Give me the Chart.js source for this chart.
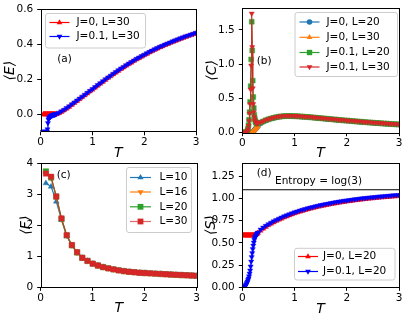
<!DOCTYPE html>
<html>
<head>
<meta charset="utf-8">
<script src="https://cdn.jsdelivr.net/npm/chart.js@4/dist/chart.umd.min.js"></script>
<style>
  body { margin: 0; background: #fff; }
  canvas { position: absolute; left: 0; top: 0; }
</style>
</head>
<body>
<canvas id="chartE" width="407" height="321"></canvas>
<canvas id="chartC" width="407" height="321"></canvas>
<canvas id="chartF" width="407" height="321"></canvas>
<canvas id="chartS" width="407" height="321"></canvas>
<script>
// temperature grid shared by (a), (b), (d): fine below 0.3, coarse above
const T = [
  0.01, 0.02, 0.03, 0.04, 0.05, 0.06, 0.07, 0.08, 0.09, 0.10,
  0.11, 0.12, 0.13, 0.14, 0.15, 0.16, 0.17, 0.18, 0.19, 0.20,
  0.21, 0.22, 0.23, 0.24, 0.25, 0.26, 0.27, 0.28, 0.29, 0.30,
  0.35, 0.40, 0.45, 0.50, 0.55, 0.60, 0.65, 0.70, 0.75, 0.80,
  0.85, 0.90, 0.95, 1.00, 1.05, 1.10, 1.15, 1.20, 1.25, 1.30,
  1.35, 1.40, 1.45, 1.50, 1.55, 1.60, 1.65, 1.70, 1.75, 1.80,
  1.85, 1.90, 1.95, 2.00, 2.05, 2.10, 2.15, 2.20, 2.25, 2.30,
  2.35, 2.40, 2.45, 2.50, 2.55, 2.60, 2.65, 2.70, 2.75, 2.80,
  2.85, 2.90, 2.95, 3.00
];
// temperature grid for (c)
const TF = [
  0.1, 0.2, 0.3, 0.4, 0.5, 0.6, 0.7, 0.8, 0.9, 1.0,
  1.1, 1.2, 1.3, 1.4, 1.5, 1.6, 1.7, 1.8, 1.9, 2.0,
  2.1, 2.2, 2.3, 2.4, 2.5, 2.6, 2.7, 2.8, 2.9, 3.0
];

// (a) energy
const eJ0L30 = [
  null, null, null, null, 0, 0, 0, 0, 0, 0,
  0, 0, 0, 0, 0, 0, 0, 0, 0, 0,
  0, 0, 0, 0, 0, 0, 0, 0, 0.0005, 0.001,
  0.005, 0.013, 0.022, 0.032, 0.042, 0.053, 0.064, 0.075, 0.086, 0.097,
  0.108, 0.119, 0.13, 0.141, 0.152, 0.163, 0.174, 0.185, 0.196, 0.207,
  0.217, 0.228, 0.238, 0.248, 0.258, 0.267, 0.277, 0.286, 0.295, 0.304,
  0.313, 0.321, 0.329, 0.337, 0.345, 0.353, 0.36, 0.368, 0.375, 0.382,
  0.388, 0.395, 0.401, 0.407, 0.413, 0.419, 0.425, 0.431, 0.436, 0.442,
  0.447, 0.452, 0.457, 0.462
];
const eJ01L30 = [
  -0.1, -0.1, -0.1, -0.1, -0.1, -0.1, -0.1, -0.1, -0.1, -0.1,
  -0.1, -0.1, -0.085, -0.05, -0.03, -0.022, -0.018, -0.015, -0.012, -0.01,
  -0.008, -0.006, -0.005, -0.004, -0.003, -0.002, -0.001, 0, 0.001, 0.002,
  0.009, 0.017, 0.026, 0.036, 0.046, 0.057, 0.068, 0.079, 0.09, 0.101,
  0.112, 0.123, 0.134, 0.145, 0.156, 0.167, 0.178, 0.189, 0.2, 0.211,
  0.221, 0.232, 0.242, 0.252, 0.262, 0.271, 0.281, 0.29, 0.299, 0.308,
  0.317, 0.325, 0.333, 0.341, 0.349, 0.357, 0.364, 0.372, 0.379, 0.386,
  0.392, 0.399, 0.405, 0.411, 0.417, 0.423, 0.429, 0.435, 0.44, 0.446,
  0.451, 0.456, 0.461, 0.466
];

// (b) specific heat
const cJ0L20 = [
  0, 0, 0, 0, 0, 0, 0, 0, 0, 0,
  0, 0, 0, 0, 0, 0, 0, 0.002, 0.006, 0.012,
  0.02, 0.028, 0.037, 0.046, 0.055, 0.064, 0.073, 0.082, 0.09, 0.098,
  0.135, 0.16, 0.178, 0.193, 0.206, 0.216, 0.225, 0.233, 0.238, 0.241,
  0.243, 0.243, 0.242, 0.241, 0.239, 0.237, 0.234, 0.231, 0.228, 0.225,
  0.222, 0.218, 0.215, 0.211, 0.208, 0.204, 0.2, 0.197, 0.193, 0.19,
  0.186, 0.183, 0.179, 0.176, 0.173, 0.169, 0.166, 0.163, 0.16, 0.157,
  0.154, 0.151, 0.148, 0.145, 0.142, 0.14, 0.137, 0.134, 0.132, 0.129,
  0.127, 0.124, 0.122, 0.119
];
const cJ0L30 = [
  0, 0, 0, 0, 0, 0, 0, 0, 0, 0,
  0, 0, 0, 0, 0, 0, 0, 0.002, 0.006, 0.012,
  0.02, 0.028, 0.037, 0.046, 0.055, 0.064, 0.073, 0.082, 0.09, 0.098,
  0.136, 0.161, 0.179, 0.194, 0.207, 0.217, 0.226, 0.234, 0.239, 0.242,
  0.244, 0.244, 0.243, 0.242, 0.24, 0.238, 0.235, 0.232, 0.229, 0.226,
  0.223, 0.219, 0.216, 0.212, 0.209, 0.205, 0.201, 0.198, 0.194, 0.191,
  0.187, 0.184, 0.18, 0.177, 0.174, 0.17, 0.167, 0.164, 0.161, 0.158,
  0.155, 0.152, 0.149, 0.146, 0.143, 0.141, 0.138, 0.135, 0.133, 0.13,
  0.128, 0.125, 0.123, 0.12
];
const cJ01L20 = [
  0, 0, 0, 0, 0, 0, 0, 0.005, 0.012, 0.03,
  0.06, 0.11, 0.19, 0.3, 0.45, 0.68, 1.07, 1.62, 1.2, 0.76,
  0.52, 0.36, 0.26, 0.2, 0.165, 0.148, 0.14, 0.137, 0.137, 0.139,
  0.149, 0.165, 0.181, 0.195, 0.207, 0.217, 0.226, 0.233, 0.238, 0.241,
  0.243, 0.243, 0.242, 0.241, 0.239, 0.237, 0.234, 0.231, 0.228, 0.225,
  0.222, 0.218, 0.215, 0.211, 0.208, 0.204, 0.2, 0.197, 0.193, 0.19,
  0.186, 0.183, 0.179, 0.176, 0.173, 0.169, 0.166, 0.163, 0.16, 0.157,
  0.154, 0.151, 0.148, 0.145, 0.142, 0.14, 0.137, 0.134, 0.132, 0.129,
  0.127, 0.124, 0.122, 0.119
];
const cJ01L30 = [
  0, 0, 0, 0, 0, 0, 0, 0.004, 0.01, 0.025,
  0.05, 0.1, 0.17, 0.28, 0.42, 0.63, 0.98, 1.74, 1.25, 0.65,
  0.42, 0.3, 0.23, 0.185, 0.16, 0.147, 0.14, 0.137, 0.137, 0.139,
  0.152, 0.168, 0.184, 0.198, 0.21, 0.22, 0.229, 0.236, 0.241, 0.244,
  0.246, 0.246, 0.245, 0.244, 0.242, 0.24, 0.237, 0.234, 0.231, 0.228,
  0.225, 0.221, 0.218, 0.214, 0.211, 0.207, 0.203, 0.2, 0.196, 0.193,
  0.189, 0.186, 0.182, 0.179, 0.176, 0.172, 0.169, 0.166, 0.163, 0.16,
  0.157, 0.154, 0.151, 0.148, 0.145, 0.143, 0.14, 0.137, 0.135, 0.132,
  0.13, 0.127, 0.125, 0.122
];

// (c) free energy
const fL10 = [3.35, 3.24, 2.76, 2.17, 1.65, 1.35, 1.12, 0.95, 0.85, 0.76, 0.7, 0.65, 0.61, 0.575, 0.545, 0.52, 0.5, 0.485, 0.47, 0.46, 0.45, 0.44, 0.43, 0.42, 0.41, 0.402, 0.394, 0.386, 0.378, 0.37];
const fL16 = [3.75, 3.52, 2.9, 2.19, 1.67, 1.35, 1.12, 0.95, 0.85, 0.76, 0.7, 0.65, 0.61, 0.575, 0.545, 0.52, 0.5, 0.485, 0.47, 0.46, 0.45, 0.44, 0.43, 0.42, 0.41, 0.402, 0.394, 0.386, 0.378, 0.37];
const fL20 = [3.73, 3.53, 2.92, 2.2, 1.67, 1.35, 1.12, 0.95, 0.85, 0.76, 0.7, 0.65, 0.61, 0.575, 0.545, 0.52, 0.5, 0.485, 0.47, 0.46, 0.45, 0.44, 0.43, 0.42, 0.41, 0.402, 0.394, 0.386, 0.378, 0.37];
const fL30 = [3.66, 3.56, 2.92, 2.22, 1.68, 1.36, 1.13, 0.95, 0.85, 0.76, 0.7, 0.65, 0.61, 0.575, 0.545, 0.52, 0.5, 0.485, 0.47, 0.46, 0.45, 0.44, 0.43, 0.42, 0.41, 0.402, 0.394, 0.386, 0.378, 0.37];

// (d) entropy
const sJ0L20 = [
  0.585, 0.585, 0.585, 0.585, 0.585, 0.585, 0.585, 0.585, 0.585, 0.585,
  0.585, 0.585, 0.585, 0.585, 0.585, 0.585, 0.585, 0.585, 0.585, 0.585,
  0.585, 0.585, 0.586, 0.588, 0.59, 0.594, 0.598, 0.603, 0.608, 0.613,
  0.637, 0.66, 0.68, 0.698, 0.715, 0.731, 0.746, 0.76, 0.773, 0.786,
  0.798, 0.81, 0.821, 0.832, 0.842, 0.851, 0.86, 0.869, 0.877, 0.885,
  0.892, 0.899, 0.906, 0.913, 0.919, 0.925, 0.931, 0.937, 0.942, 0.947,
  0.952, 0.957, 0.962, 0.966, 0.97, 0.974, 0.978, 0.982, 0.986, 0.989,
  0.993, 0.996, 0.999, 1.002, 1.005, 1.008, 1.011, 1.013, 1.016, 1.018,
  1.021, 1.023, 1.025, 1.027
];
const sJ01L20 = [
  null, null, 0, 0.005, 0.01, 0.018, 0.027, 0.038, 0.05, 0.065,
  0.082, 0.1, 0.125, 0.155, 0.19, 0.235, 0.29, 0.34, 0.385, 0.43,
  0.47, 0.505, 0.535, 0.555, 0.57, 0.582, 0.592, 0.601, 0.609, 0.616,
  0.65, 0.673, 0.693, 0.711, 0.728, 0.744, 0.759, 0.773, 0.786, 0.799,
  0.811, 0.823, 0.834, 0.845, 0.855, 0.864, 0.873, 0.882, 0.89, 0.898,
  0.905, 0.912, 0.919, 0.926, 0.932, 0.938, 0.944, 0.95, 0.955, 0.96,
  0.965, 0.97, 0.975, 0.979, 0.983, 0.987, 0.991, 0.995, 0.999, 1.002,
  1.006, 1.009, 1.012, 1.015, 1.018, 1.021, 1.024, 1.026, 1.029, 1.031,
  1.034, 1.036, 1.038, 1.04
];
const entropyMax = 1.0986; // log(3)

// tick labels
const tTicks = [0, 1, 2, 3];
const eTicks = [0, 0.2, 0.4, 0.6];
const cTicks = [0, 0.5, 1.0, 1.5];
const fTicks = [0, 1, 2, 3, 4];
const sTicks = [0, 0.25, 0.5, 0.75, 1.0, 1.25];

const FONT = "'DejaVu Sans', 'Liberation Sans', sans-serif";
Chart.defaults.font.family = FONT;
Chart.defaults.font.size = 10.5;
Chart.defaults.color = "#000";

// extra per-panel decorations (legend box, text notes)
const extras = {};

function marker(ctx, style, rot, r, x, y) {
  ctx.beginPath();
  if (style === "circle") {
    ctx.arc(x, y, r, 0, Math.PI * 2);
  } else if (style === "rect") {
    const s = Math.SQRT1_2 * r;
    ctx.rect(x - s, y - s, 2 * s, 2 * s);
  } else {
    let a = (rot || 0) * Math.PI / 180;
    ctx.moveTo(x + Math.sin(a) * r, y - Math.cos(a) * r);
    a += 2 * Math.PI / 3;
    ctx.lineTo(x + Math.sin(a) * r, y - Math.cos(a) * r);
    a += 2 * Math.PI / 3;
    ctx.lineTo(x + Math.sin(a) * r, y - Math.cos(a) * r);
    ctx.closePath();
  }
  ctx.fill();
}

const framePlugin = {
  id: "frame",
  afterDatasetsDraw(chart) {
    const a = chart.chartArea, ctx = chart.ctx;
    ctx.save();
    ctx.strokeStyle = "#000";
    ctx.lineWidth = 1;
    ctx.strokeRect(Math.round(a.left) + 0.5, Math.round(a.top) + 0.5,
      Math.round(a.right - a.left), Math.round(a.bottom - a.top));
    ctx.restore();
  }
};

const decorPlugin = {
  id: "decor",
  afterDraw(chart) {
    const ex = extras[chart.canvas.id];
    if (!ex) return;
    const ctx = chart.ctx;
    ctx.save();
    ctx.font = "10.5px " + FONT;
    ctx.textBaseline = "middle";
    ctx.textAlign = "left";
    ctx.fillStyle = "#000";
    ex.notes.forEach(n => {
      ctx.fillText(n.text, chart.scales.x.getPixelForValue(n.x), chart.scales.y.getPixelForValue(n.y));
    });
    const L = ex.legend;
    ctx.fillStyle = "rgba(255,255,255,0.8)";
    ctx.strokeStyle = "#cccccc";
    ctx.lineWidth = 1;
    ctx.beginPath();
    if (ctx.roundRect) ctx.roundRect(L.x, L.y, L.w, L.h, 2.5); else ctx.rect(L.x, L.y, L.w, L.h);
    ctx.fill();
    ctx.stroke();
    L.rows.forEach((ry, i) => {
      const ds = chart.data.datasets[i];
      ctx.strokeStyle = ds.borderColor;
      ctx.lineWidth = ds.borderWidth;
      ctx.beginPath();
      ctx.moveTo(L.x0, ry);
      ctx.lineTo(L.x1, ry);
      ctx.stroke();
      ctx.fillStyle = ds.pointBackgroundColor;
      marker(ctx, ds.pointStyle, ds.pointRotation, ds.pointRadius + 0.3, (L.x0 + L.x1) / 2, ry);
      ctx.fillStyle = "#000";
      ctx.fillText(ds.label, L.tx, ry);
    });
    ctx.restore();
  }
};

function series(label, data, color, style, rot, radius, lineColor) {
  return {
    label, data,
    borderColor: lineColor || color,
    backgroundColor: color,
    pointBackgroundColor: color,
    pointBorderColor: color,
    pointBorderWidth: 0.4,
    pointStyle: style,
    pointRotation: rot,
    pointRadius: radius,
    borderWidth: 1.2,
    clip: 0
  };
}

function xAxis(p) {
  return {
    type: "linear", min: 0, max: 3,
    afterBuildTicks: s => { s.ticks = tTicks.map(v => ({ value: v })); },
    afterFit: s => { s.height = p.xH; s.paddingLeft = 0; s.paddingRight = 0; },
    grid: { drawOnChartArea: false, tickLength: 3.5, color: "#000", lineWidth: 1 },
    border: { display: false },
    ticks: { padding: 1, maxRotation: 0, autoSkip: false, callback: v => String(v) },
    title: { display: true, text: "T", padding: 0, font: { size: 14, style: "italic" } }
  };
}

function yAxis(p, ticks, min, max, dec, label) {
  return {
    type: "linear", min, max,
    afterBuildTicks: s => { s.ticks = ticks.map(v => ({ value: v })); },
    afterFit: s => { s.width = p.yW; s.paddingTop = 0; s.paddingBottom = 0; },
    grid: { drawOnChartArea: false, tickLength: 3.5, color: "#000", lineWidth: 1 },
    border: { display: false },
    ticks: { padding: 4, autoSkip: false, callback: v => Number(v).toFixed(dec) },
    title: { display: true, text: label, padding: 0, font: { size: 14, style: "italic" } }
  };
}

function panel(id, p, labels, datasets, y) {
  const n = datasets.length;
  datasets.forEach((d, i) => { d.order = n - i; });
  new Chart(document.getElementById(id), {
    type: "line",
    data: { labels, datasets },
    options: {
      responsive: false,
      animation: false,
      events: [],
      layout: { padding: { left: p.padL, top: p.padT, right: p.padR, bottom: p.padB } },
      plugins: { legend: { display: false }, tooltip: { enabled: false } },
      scales: { x: xAxis(p), y }
    },
    plugins: [framePlugin, decorPlugin]
  });
}

// (a) energy
const pA = { padL: 1.6, padT: 9.3, padR: 211, padB: 159.3, yW: 39.1, xH: 29.9 };
extras.chartE = {
  notes: [{ text: "(a)", x: 0.32, y: 0.316 }],
  legend: { x: 45.5, y: 13.5, w: 100, h: 34.5, rows: [22.5, 36.5], x0: 49.5, x1: 69.5, tx: 76.5 }
};
panel("chartE", pA, T, [
  series("J=0, L=30", eJ0L30, "#ff0000", "triangle", 0, 3),
  series("J=0.1, L=30", eJ01L30, "#0000ff", "triangle", 180, 3)
], yAxis(pA, eTicks, -0.1, 0.6, 1, "⟨E⟩"));

// (b) specific heat
const pB = { padL: 203.9, padT: 8, padR: 8, padB: 159.3, yW: 38.4, xH: 29 };
extras.chartC = {
  notes: [{ text: "(b)", x: 0.276, y: 1.047 }],
  legend: { x: 295, y: 12.5, w: 102.5, h: 64, rows: [22, 37.3, 52.5, 67], x0: 299.5, x1: 319.5, tx: 326.5 }
};
panel("chartC", pB, T, [
  series("J=0, L=20", cJ0L20, "#1f77b4", "circle", 0, 2.5),
  series("J=0, L=30", cJ0L30, "#ff7f0e", "triangle", 0, 3),
  series("J=0.1, L=20", cJ01L20, "#2ca02c", "rect", 0, 3.5),
  series("J=0.1, L=30", cJ01L30, "#d62728", "triangle", 180, 3)
], yAxis(pB, cTicks, 0, 1.82, 1, "⟨C⟩"));

// (c) free energy
const pC = { padL: 18.3, padT: 163, padR: 210.3, padB: 4.3, yW: 22.4, xH: 29.4 };
extras.chartF = {
  notes: [{ text: "(c)", x: 0.308, y: 3.59 }],
  legend: { x: 126.5, y: 167.5, w: 65, h: 65, rows: [177.5, 192, 206.8, 221.5], x0: 130, x1: 151, tx: 159.5 }
};
panel("chartF", pC, TF, [
  series("L=10", fL10, "#1f77b4", "triangle", 0, 3.3),
  series("L=16", fL16, "#ff7f0e", "triangle", 180, 3.3),
  series("L=20", fL20, "#2ca02c", "rect", 0, 3.8),
  series("L=30", fL30, "#d62728", "rect", 0, 3.8, "rgba(214,39,40,0.7)")
], yAxis(pC, fTicks, 0, 4, 0, "⟨F⟩"));

// (d) entropy
const pD = { padL: 203.3, padT: 163, padR: 8, padB: 3.6, yW: 39, xH: 30.1 };
extras.chartS = {
  notes: [{ text: "(d)", x: 0.276, y: 1.288 }, { text: "Entropy = log(3)", x: 0.626, y: 1.193 }],
  legend: { x: 294.5, y: 248.3, w: 100.5, h: 31.7, rows: [256.5, 271.5], x0: 298, x1: 318, tx: 323 }
};
const logLine = {
  label: "log(3)",
  data: [{ x: 0, y: entropyMax }, { x: 3, y: entropyMax }],
  borderColor: "#000", borderWidth: 1.2, pointRadius: 0, clip: 0
};
panel("chartS", pD, T, [
  series("J=0, L=20", sJ0L20, "#ff0000", "triangle", 0, 3),
  series("J=0.1, L=20", sJ01L20, "#0000ff", "triangle", 180, 3),
  logLine
], yAxis(pD, sTicks, 0, 1.4, 2, "⟨S⟩"));
</script>
</body>
</html>
